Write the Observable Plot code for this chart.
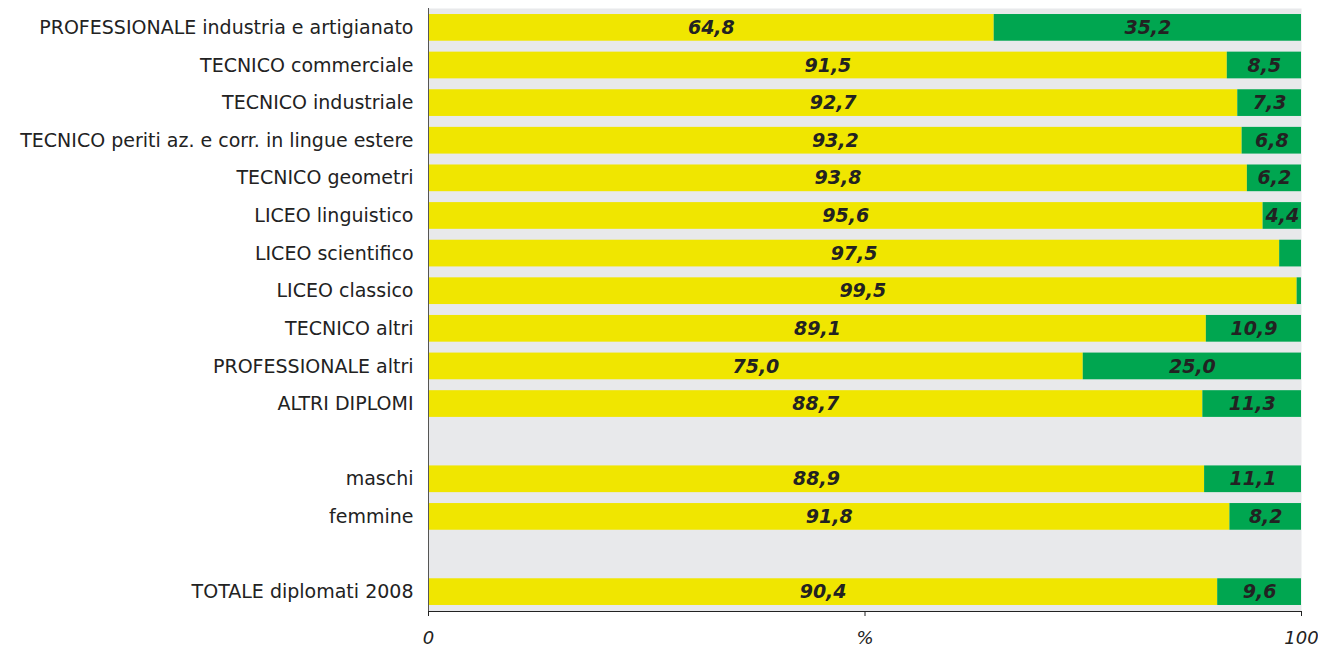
<!DOCTYPE html>
<html><head><meta charset="utf-8">
<script src="https://cdn.jsdelivr.net/npm/d3@7"></script>
<script src="https://cdn.jsdelivr.net/npm/@observablehq/plot@0.6"></script>
<style>
body{margin:0;background:#fff;}
#chart svg{display:block;}
</style>
</head><body><div id="chart"></div>
<script>
const categories = [
  "PROFESSIONALE industria e artigianato",
  "TECNICO commerciale",
  "TECNICO industriale",
  "TECNICO periti az. e corr. in lingue estere",
  "TECNICO geometri",
  "LICEO linguistico",
  "LICEO scientifico",
  "LICEO classico",
  "TECNICO altri",
  "PROFESSIONALE altri",
  "ALTRI DIPLOMI",
  " ",
  "maschi",
  "femmine",
  "  ",
  "TOTALE diplomati 2008"
];
const yellowValues = [64.8, 91.5, 92.7, 93.2, 93.8, 95.6, 97.5, 99.5, 89.1, 75.0, 88.7, null, 88.9, 91.8, null, 90.4];
const greenValues  = [35.2,  8.5,  7.3,  6.8,  6.2,  4.4,  2.5,  0.5, 10.9, 25.0, 11.3, null, 11.1,  8.2, null,  9.6];
const seriesNames = ["serie A", "serie B"];
const seriesColors = ["#f0e600", "#00a650"];
const xTicks = [0, 50, 100];
const xTickLabels = ["0", "%", "100"];

const data = [];
categories.forEach((c, i) => {
  if (yellowValues[i] == null) return;
  data.push({cat: c, series: seriesNames[0], value: yellowValues[i]});
  data.push({cat: c, series: seriesNames[1], value: greenValues[i]});
});
const fmt = v => v.toFixed(1).replace(".", ",");

const chart = Plot.plot({
  width: 1318,
  height: 647,
  marginLeft: 428,
  marginRight: 17,
  marginTop: 8,
  marginBottom: 36,
  style: {fontFamily: "'DejaVu Sans', Verdana, sans-serif", background: "#fff", color: "#222"},
  x: {domain: [0, 100], axis: null},
  y: {domain: categories, axis: null, paddingInner: 0.29, paddingOuter: 0.16, round: false},
  color: {domain: seriesNames, range: seriesColors},
  marks: [
    Plot.frame({fill: "#e8e9eb", stroke: null}),
    Plot.barX(data, {x: "value", y: "cat", fill: "series"}),
    Plot.text(data, Plot.stackX({
      x: "value", y: "cat", z: "series",
      text: d => d.value >= 3 ? fmt(d.value) : "",
      fill: "#222", fontSize: 19, fontWeight: "bold", fontStyle: "italic"
    })),
    Plot.frame({anchor: "left", stroke: "#555"}),
    Plot.frame({anchor: "bottom", stroke: "#222"}),
    Plot.axisY({tickSize: 0, tickPadding: 15, fontSize: 19, label: null, fill: "#222"}),
    Plot.axisX({ticks: xTicks, tickFormat: (d) => xTickLabels[xTicks.indexOf(d)], tickSize: 5, tickPadding: 15, fontSize: 18, fontStyle: "italic", label: null, stroke: "#222", fill: "#222"})
  ]
});
document.getElementById("chart").appendChild(chart);
</script>
</body></html>
